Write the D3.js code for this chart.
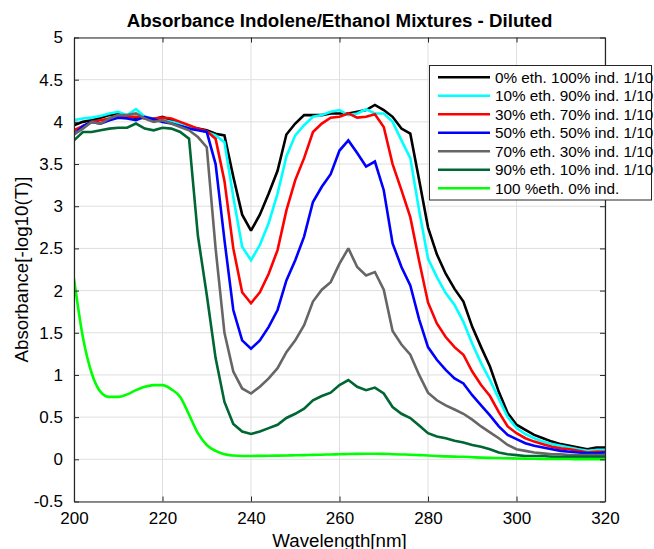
<!DOCTYPE html>
<html><head><meta charset="utf-8">
<script src="https://cdn.jsdelivr.net/npm/d3@7"></script>
<style>html,body{margin:0;padding:0;background:#fff;}svg{display:block;font-family:"Liberation Sans",Arial,sans-serif;}</style>
</head><body>
<svg id="chart" width="654" height="549"></svg>
<script>
const wavelength = [200,202,204,206,208,210,212,214,216,218,220,222,224,226,228,230,232,234,236,238,240,242,244,246,248,250,252,254,256,258,260,262,264,266,268,270,272,274,276,278,280,282,284,286,288,290,292,294,296,298,300,302,304,306,308,310,312,314,316,318,320];

const eth0 = [3.96,4.00,4.02,4.05,4.08,4.10,4.06,4.05,4.05,4.03,
  4.06,4.02,3.98,3.94,3.92,3.90,3.86,3.84,3.35,2.90,
  2.71,2.90,3.15,3.42,3.85,3.98,4.08,4.08,4.08,4.10,
  4.10,4.10,4.12,4.14,4.20,4.14,4.06,3.92,3.86,3.31,
  2.75,2.43,2.20,2.02,1.87,1.57,1.33,1.10,0.80,0.55,
  0.41,0.35,0.29,0.25,0.21,0.18,0.16,0.14,0.12,0.14,0.14];
const eth10 = [4.02,4.04,4.05,4.07,4.10,4.12,4.08,4.15,4.06,4.04,
  4.02,4.00,3.98,3.95,3.91,3.88,3.84,3.76,3.11,2.52,
  2.36,2.54,2.80,3.15,3.59,3.84,3.96,4.06,4.08,4.12,
  4.14,4.08,4.10,4.15,4.10,4.10,4.00,3.78,3.57,2.95,
  2.38,2.16,1.97,1.83,1.63,1.37,1.14,0.94,0.72,0.50,
  0.37,0.30,0.25,0.21,0.18,0.16,0.14,0.12,0.10,0.11,0.11];
const eth30 = [3.90,3.95,4.00,4.02,4.04,4.08,4.06,4.06,4.04,4.04,
  4.05,4.04,4.00,3.96,3.92,3.89,3.80,3.30,2.50,1.98,
  1.85,1.98,2.20,2.48,2.95,3.31,3.57,3.88,3.98,4.05,
  4.06,4.10,4.05,4.06,4.09,3.94,3.50,3.19,2.87,2.35,
  1.86,1.61,1.45,1.33,1.24,1.04,0.88,0.75,0.56,0.39,
  0.31,0.25,0.21,0.18,0.15,0.13,0.12,0.10,0.08,0.09,0.09];
const eth50 = [3.85,3.95,4.00,3.98,4.02,4.05,4.04,4.02,4.06,4.03,
  4.00,3.98,3.95,3.92,3.90,3.88,3.50,2.60,1.77,1.41,
  1.31,1.41,1.57,1.77,2.12,2.36,2.64,3.05,3.23,3.38,
  3.66,3.78,3.63,3.47,3.53,3.19,2.56,2.28,2.06,1.66,
  1.33,1.18,1.06,0.96,0.90,0.76,0.64,0.52,0.39,0.29,
  0.24,0.19,0.16,0.14,0.12,0.10,0.09,0.08,0.07,0.07,0.08];
const eth70 = [3.85,3.92,4.00,3.98,4.04,4.08,4.08,4.10,4.04,4.00,
  4.02,3.98,3.94,3.90,3.82,3.70,2.50,1.50,1.04,0.84,
  0.78,0.86,0.96,1.08,1.27,1.41,1.59,1.87,2.01,2.10,
  2.32,2.50,2.28,2.18,2.22,2.01,1.52,1.36,1.24,1.00,
  0.79,0.70,0.64,0.59,0.54,0.47,0.39,0.32,0.25,0.17,
  0.12,0.10,0.08,0.07,0.06,0.06,0.05,0.05,0.05,0.05,0.05];
const eth90 = [3.78,3.88,3.88,3.90,3.92,3.93,3.93,3.98,3.92,3.90,
  3.93,3.92,3.88,3.80,2.65,1.95,1.20,0.68,0.42,0.33,
  0.30,0.33,0.37,0.41,0.49,0.54,0.60,0.70,0.75,0.79,
  0.88,0.94,0.86,0.82,0.85,0.78,0.62,0.54,0.49,0.40,
  0.31,0.27,0.25,0.22,0.20,0.17,0.15,0.12,0.08,0.06,
  0.05,0.04,0.04,0.04,0.03,0.03,0.03,0.03,0.03,0.03,0.03];
const eth100 = [2.14,1.45,1.02,0.80,0.74,0.74,0.77,0.82,0.86,0.88,
  0.88,0.83,0.74,0.53,0.31,0.17,0.10,0.06,0.045,0.04,
  0.04,0.041,0.042,0.044,0.046,0.048,0.05,0.053,0.055,0.058,
  0.06,0.063,0.065,0.066,0.066,0.065,0.06,0.057,0.055,0.05,
  0.045,0.04,0.035,0.032,0.03,0.025,0.02,0.017,0.015,0.012,
  0.01,0.008,0.006,0.005,0.004,0.003,0.003,0.002,0.002,0.002,0.002];

const seriesNames = ["0% eth. 100% ind. 1/10","10% eth. 90% ind. 1/10","30% eth. 70% ind. 1/10","50% eth. 50% ind. 1/10","70% eth. 30% ind. 1/10","90% eth. 10% ind. 1/10","100 %eth. 0% ind."];
const seriesColors = ["#000000","#00ffff","#ff0000","#0000ff","#666666","#006633","#00ff00"];
const seriesValues = [eth0, eth10, eth30, eth50, eth70, eth90, eth100];

const xTicks = [200,220,240,260,280,300,320];
const yTicks = [-0.5,0,0.5,1,1.5,2,2.5,3,3.5,4,4.5,5];

const title = "Absorbance Indolene/Ethanol Mixtures - Diluted";
const xLabel = "Wavelength[nm]";
const yLabel = "Absorbance[-log10(T)]";

const L = 74, R = 605, T = 37.5, B = 501.5;
const svg = d3.select("#chart");
const x = d3.scaleLinear().domain([200,320]).range([L,R]);
const y = d3.scaleLinear().domain([-0.5,5]).range([B,T]);

// grid
const grid = svg.append("g");
grid.selectAll(".gx").data(xTicks).enter().append("line")
  .attr("x1",d=>x(d)).attr("x2",d=>x(d)).attr("y1",T).attr("y2",B)
  .attr("stroke","#dfdfdf").attr("stroke-width",1);
grid.selectAll(".gy").data(yTicks).enter().append("line")
  .attr("y1",d=>y(d)).attr("y2",d=>y(d)).attr("x1",L).attr("x2",R)
  .attr("stroke","#dfdfdf").attr("stroke-width",1);

// lines
const clip = svg.append("clipPath").attr("id","clip").append("rect")
  .attr("x",L).attr("y",T).attr("width",R-L).attr("height",B-T);
const plot = svg.append("g").attr("clip-path","url(#clip)");
seriesValues.forEach((vals,i)=>{
  const line = d3.line().x((d,j)=>x(wavelength[j])).y(d=>y(d))
    .curve(i===6 ? d3.curveMonotoneX : d3.curveLinear);
  plot.append("path").datum(vals).attr("d",line)
    .attr("fill","none").attr("stroke",seriesColors[i]).attr("stroke-width",2.6)
    .attr("stroke-linejoin","miter").attr("stroke-miterlimit",2);
});

// axes (MATLAB-style, ticks inside)
const axColor = "#262626";
const xAxisB = d3.axisBottom(x).tickValues(xTicks).tickSizeInner(-5).tickSizeOuter(0).tickPadding(10).tickFormat(d3.format("d"));
const gxB = svg.append("g").attr("transform",`translate(0,${B})`).call(xAxisB);
const xAxisT = d3.axisTop(x).tickValues(xTicks).tickSizeInner(-5).tickSizeOuter(0).tickFormat("");
const gxT = svg.append("g").attr("transform",`translate(0,${T})`).call(xAxisT);
const yAxisL = d3.axisLeft(y).tickValues(yTicks).tickSizeInner(-5).tickSizeOuter(0).tickPadding(10).tickFormat(d=>String(d));
const gyL = svg.append("g").attr("transform",`translate(${L},0)`).call(yAxisL);
const yAxisR = d3.axisRight(y).tickValues(yTicks).tickSizeInner(-5).tickSizeOuter(0).tickFormat("");
const gyR = svg.append("g").attr("transform",`translate(${R},0)`).call(yAxisR);
[gxB,gxT,gyL,gyR].forEach(g=>{
  g.select(".domain").attr("stroke",axColor).attr("stroke-width",1.2);
  g.selectAll(".tick line").attr("stroke",axColor).attr("stroke-width",1);
  g.selectAll(".tick text").attr("fill","#000").style("font-size","17px").style("font-family","'Liberation Sans',Arial,sans-serif");
});
gyL.selectAll(".tick text").attr("dx","-1");

// title & labels
svg.append("text").attr("x",(L+R)/2).attr("y",27).attr("text-anchor","middle")
  .style("font-size","18.7px").style("font-weight","bold").text(title);
svg.append("text").attr("x",(L+R)/2).attr("y",547).attr("text-anchor","middle")
  .style("font-size","18.7px").text(xLabel);
svg.append("text").attr("transform",`translate(28,${(T+B)/2}) rotate(-90)`).attr("text-anchor","middle")
  .style("font-size","18.7px").text(yLabel);

// legend
const lg = svg.append("g");
lg.append("rect").attr("x",429.5).attr("y",65.5).attr("width",222).attr("height",134.5)
  .attr("fill","#fff").attr("stroke",axColor).attr("stroke-width",1);
seriesNames.forEach((name,i)=>{
  const yy = 77.3 + i*18.5;
  lg.append("line").attr("x1",438).attr("x2",490).attr("y1",yy).attr("y2",yy)
    .attr("stroke",seriesColors[i]).attr("stroke-width",2.6);
  lg.append("text").attr("x",495).attr("y",yy).attr("dy","0.35em")
    .style("font-size","15.3px").text(name);
});
</script>
</body></html>
